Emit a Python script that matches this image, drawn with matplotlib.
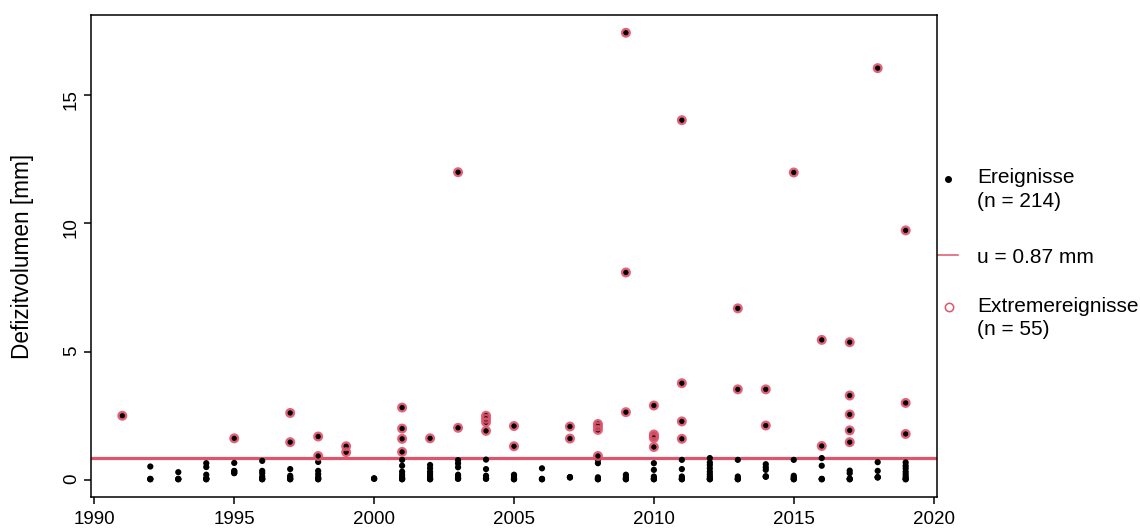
import numpy as np
import matplotlib
matplotlib.use('Agg')
import matplotlib.pyplot as plt

plt.rcParams['font.family'] = ['Liberation Sans', 'DejaVu Sans']

# Schwellenwert
u = 0.87

# Jahre mit Defizitereignissen
jahre = [1991, 1992, 1993, 1994, 1995, 1996, 1997, 1998, 1999, 2000,
         2001, 2002, 2003, 2004, 2005, 2006, 2007, 2008, 2009, 2010,
         2011, 2012, 2013, 2014, 2015, 2016, 2017, 2018, 2019]

# Defizitvolumen [mm] je Jahr (eng liegende Punkte ueberlagert)
werte = [
    [2.50],
    [0.52, 0.03, 0.02, 0.04],
    [0.30, 0.03, 0.02, 0.04],
    [0.65, 0.50, 0.20, 0.05, 0.02, 0.03, 0.06],
    [1.62, 0.66, 0.35, 0.26, 0.27, 0.34],
    [0.74, 0.35, 0.26, 0.13, 0.03, 0.02, 0.05],
    [2.61, 1.47, 0.42, 0.16, 0.10, 0.03, 0.02, 0.05],
    [1.69, 0.93, 0.70, 0.35, 0.22, 0.10, 0.03, 0.02, 0.05],
    [1.31, 1.08],
    [0.05, 0.04, 0.06],
    [2.82, 2.00, 1.60, 1.09, 0.78, 0.55, 0.32, 0.20, 0.10, 0.03, 0.02, 0.05],
    [1.62, 0.58, 0.45, 0.32, 0.22, 0.13, 0.03, 0.02, 0.05],
    [12.00, 2.03, 0.77, 0.64, 0.49, 0.20, 0.13, 0.05, 0.04, 0.06],
    [2.50, 2.38, 2.25, 1.91, 0.79, 0.42, 0.16, 0.05, 0.04, 0.06],
    [2.10, 1.31, 0.20, 0.13, 0.03, 0.02, 0.05],
    [0.45, 0.03, 0.02, 0.04],
    [2.08, 1.61, 0.10, 0.09, 0.11],
    [2.18, 2.08, 1.95, 0.93, 0.78, 0.65, 0.10, 0.03, 0.02, 0.05],
    [17.44, 8.09, 2.64, 0.20, 0.10, 0.03, 0.02, 0.05],
    [2.90, 1.77, 1.70, 1.63, 1.28, 0.65, 0.39, 0.13, 0.03, 0.02, 0.05],
    [14.03, 3.77, 2.28, 1.60, 0.78, 0.42, 0.13, 0.03, 0.02, 0.05],
    [0.85, 0.68, 0.58, 0.45, 0.32, 0.22, 0.13, 0.03, 0.02, 0.05],
    [6.69, 3.53, 0.78, 0.13, 0.03, 0.02, 0.05],
    [3.53, 2.12, 0.61, 0.49, 0.39, 0.13, 0.12, 0.14],
    [11.99, 0.78, 0.16, 0.10, 0.03, 0.02, 0.05],
    [5.46, 1.32, 0.85, 0.55, 0.03, 0.02, 0.04],
    [5.37, 3.29, 2.55, 1.93, 1.47, 0.36, 0.26, 0.03, 0.02, 0.05],
    [16.06, 0.69, 0.35, 0.10, 0.09, 0.11],
    [9.73, 3.00, 1.79, 0.68, 0.55, 0.45, 0.32, 0.22, 0.13, 0.03, 0.02, 0.05],
]

x = np.concatenate([[j] * len(w) for j, w in zip(jahre, werte)])
y = np.concatenate(werte)
extrem = y > u

rot = '#DF536B'

fig = plt.figure(figsize=(11.4, 5.32), dpi=100)
ax = fig.add_axes([91 / 1140, 1 - 497.2 / 532, 846 / 1140, 482.3 / 532])

ax.axhline(u, color=rot, lw=2.3, zorder=2)
ax.scatter(x, y, s=20, color='black', edgecolors='none', zorder=3)
ax.scatter(x[extrem], y[extrem], s=30, facecolors='none', edgecolors=rot,
           linewidths=1.7, zorder=4, alpha=0.9)

# R-Achsenbereich (4 % Erweiterung)
xr = x.max() - x.min()
yr = y.max() - y.min()
ax.set_xlim(x.min() - 0.04 * xr, x.max() + 0.04 * xr)
ax.set_ylim(y.min() - 0.04 * yr, y.max() + 0.04 * yr)

ax.set_xticks([1990, 1995, 2000, 2005, 2010, 2015, 2020])
ax.set_yticks([0, 5, 10, 15])
ax.tick_params(axis='both', direction='out', length=5, width=1.1,
               labelsize=13.5, pad=5)
ax.tick_params(axis='y', labelrotation=90, pad=3)
for sp in ax.spines.values():
    sp.set_linewidth(1.1)

fig.text(23 / 1140, 1 - 256 / 532, 'Defizitvolumen [mm]',
         rotation=90, ha='center', va='center', fontsize=16.3)

# Legende rechts ausserhalb
tr = ax.transAxes
fs = 15
ax.plot([1.013], [0.660], 'o', color='black', ms=4, transform=tr, clip_on=False)
ax.plot([1.001, 1.025], [0.502, 0.502], '-', color=rot, lw=1.1, transform=tr,
        clip_on=False)
ax.plot([1.014], [0.395], 'o', mfc='none', mec=rot, ms=6, mew=1.1,
        transform=tr, clip_on=False)
lx = 1.047
ax.text(lx, 0.662, 'Ereignisse', transform=tr, fontsize=fs, va='center')
ax.text(lx, 0.614, f'(n = {len(y)})', transform=tr, fontsize=fs, va='center')
ax.text(lx, 0.498, f'u = {u} mm', transform=tr, fontsize=fs, va='center')
ax.text(lx, 0.396, 'Extremereignisse', transform=tr, fontsize=fs, va='center')
ax.text(lx, 0.347, f'(n = {extrem.sum()})', transform=tr, fontsize=fs,
        va='center')

fig.savefig('out.png', dpi=100)
